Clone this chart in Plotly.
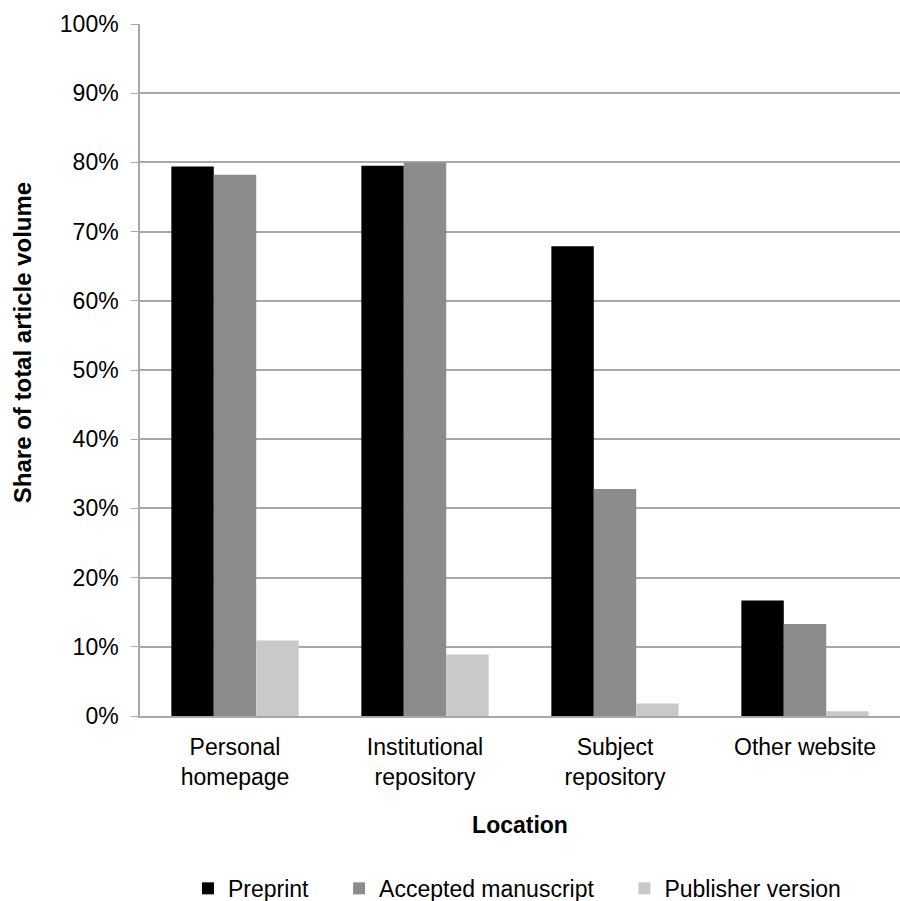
import plotly.graph_objects as go

# Share of total article volume by hosting location and version
locations = ["Personal<br>homepage", "Institutional<br>repository", "Subject<br>repository", "Other website"]
preprint = [79.4, 79.5, 67.9, 16.7]
accepted = [78.2, 80.0, 32.8, 13.3]
publisher = [10.9, 8.9, 1.8, 0.7]

NBSP = "\u00a0" * 4  # extra room between legend entries
series = [
    ("Preprint" + NBSP, preprint, "#000000"),
    ("Accepted manuscript" + NBSP, accepted, "#8c8c8c"),
    ("Publisher version", publisher, "#c9c9c9"),
]

FONT = "Liberation Sans, Arial, sans-serif"

fig = go.Figure()
for name, vals, color in series:
    fig.add_trace(go.Bar(
        name=name,
        x=locations,
        y=[v / 100 for v in vals],
        marker=dict(color=color, line=dict(width=0)),
    ))

fig.update_layout(
    width=900,
    height=901,
    barmode="group",
    bargap=0.33,
    bargroupgap=0,
    plot_bgcolor="white",
    paper_bgcolor="white",
    margin=dict(l=140, r=0, t=24, b=185, autoexpand=False),
    font=dict(family=FONT, size=23, color="#000000"),
    legend=dict(
        orientation="h",
        x=0.496,
        xanchor="center",
        xref="paper",
        y=0.014,
        yref="container",
        yanchor="middle",
        font=dict(size=23),
        traceorder="normal",
    ),
    annotations=[
        dict(
            text="<b>Share of total article volume</b>",
            textangle=-90,
            xref="paper",
            yref="paper",
            x=-0.155,
            y=0.539,
            xanchor="center",
            yanchor="middle",
            showarrow=False,
            font=dict(size=24),
        )
    ],
)

fig.update_yaxes(
    range=[0, 1.0],
    dtick=0.1,
    tickformat=".0%",
    showgrid=True,
    gridcolor="#a8a8a8",
    gridwidth=1.5,
    showline=True,
    linecolor="#a8a8a8",
    linewidth=1.5,
    ticks="outside",
    ticklen=7,
    tickcolor="#a8a8a8",
    ticklabelstandoff=8,
    zeroline=False,
    tickfont=dict(size=23),
)

fig.update_xaxes(
    showline=True,
    linecolor="#a8a8a8",
    linewidth=1.5,
    ticks="",
    ticklabelstandoff=10,
    tickfont=dict(size=23),
    title=dict(text="<b>Location</b>", font=dict(size=23), standoff=28),
)

fig.write_html("out.html")
